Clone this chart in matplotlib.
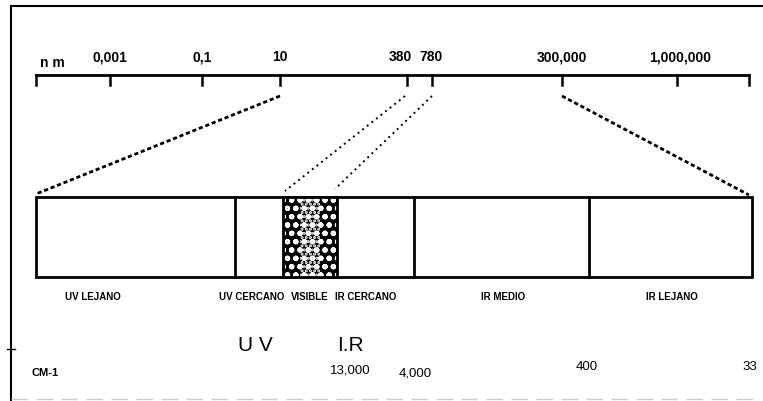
import numpy as np
import matplotlib.pyplot as plt
from matplotlib.patches import Rectangle

plt.rcParams['font.family'] = ['Liberation Sans Narrow', 'Liberation Sans', 'DejaVu Sans']
plt.rcParams['hatch.linewidth'] = 1.5

# Data
scale_labels = ["0,001", "0,1", "10", "380", "780", "300,000", "1,000,000"]
band_names = ["UV LEJANO", "UV CERCANO", "VISIBLE", "IR CERCANO", "IR MEDIO", "IR LEJANO"]
group_names = ["U V", "I.R"]
wavenumber_labels = ["13,000", "4,000", "400", "33"]

# Layout (pixel coordinates of the drawing)
tick_x = [36, 110, 202, 280, 407, 432, 562, 677, 749]
label_x = [110, 202, 280, 400, 431, 562, 680]
band_edges = [36, 235, 283, 337, 414, 589, 752]
band_label_x = [93, 252, 310, 366, 503, 672]
group_x = [255, 350]
wn_xy = [(350, 374), (415, 377), (587, 370), (750, 370)]

fig = plt.figure(figsize=(7.63, 4.02), dpi=100)
ax = fig.add_axes([0, 0, 1, 1])
ax.set_xlim(0, 763)
ax.set_ylim(402, 0)
ax.axis("off")

# frame
ax.plot([11, 11], [7, 402], color="black", lw=1.5)
ax.plot([11, 763], [7, 7], color="black", lw=1.5)
ax.plot([7, 15], [350, 350], color="black", lw=1)
ax.plot([11, 760], [400, 400], color="#cccccc", lw=1, ls=(0, (12, 6)))

# top scale
ax.plot([tick_x[0], tick_x[-1]], [76, 76], color="black", lw=2)
for x in tick_x:
    ax.plot([x, x], [76, 86], color="black", lw=1.8)
ax.text(40, 67, "n m", ha="left", va="baseline", fontsize=10, fontweight="bold")
for x, lab in zip(label_x, scale_labels):
    ax.text(x, 61, lab, ha="center", va="baseline", fontsize=10, fontweight="bold")

# zoom lines
ax.plot([280, 36], [97, 195], color="black", lw=2, ls=(0, (1.5, 1)))
ax.plot([405, 285], [97, 192], color="black", lw=1.4, ls=(0, (1, 2)))
ax.plot([432, 335], [97, 190], color="black", lw=1.4, ls=(0, (1, 2)))
ax.plot([562, 749], [97, 196], color="black", lw=2, ls=(0, (1.5, 1)))

# band rectangle
ax.add_patch(Rectangle((band_edges[0], 198), band_edges[-1] - band_edges[0], 80,
                       fill=False, ec="black", lw=2))
for x in band_edges[1:-1]:
    ax.plot([x, x], [198, 278], color="black", lw=2)
vis = Rectangle((band_edges[2], 198), band_edges[3] - band_edges[2], 80,
                facecolor="black", edgecolor="white", hatch="oo", lw=0)
ax.add_patch(vis)
ax.add_patch(Rectangle((300, 198), 20, 80, facecolor="none", edgecolor="white",
                       hatch="....", lw=0))
ax.plot([band_edges[2], band_edges[3]], [198, 198], color="black", lw=2)
ax.plot([band_edges[2], band_edges[3]], [278, 278], color="black", lw=2)

for x, name in zip(band_label_x, band_names):
    ax.text(x, 300, name, ha="center", va="baseline", fontsize=7, fontweight="bold")

for x, name in zip(group_x, group_names):
    ax.text(x, 351, name, ha="center", va="baseline", fontsize=15)

ax.text(45, 376, "CM-1", ha="center", va="baseline", fontsize=8, fontweight="bold")
for (x, y), lab in zip(wn_xy, wavenumber_labels):
    ax.text(x, y, lab, ha="center", va="baseline", fontsize=9.5)

fig.savefig("out.png", dpi=100)
